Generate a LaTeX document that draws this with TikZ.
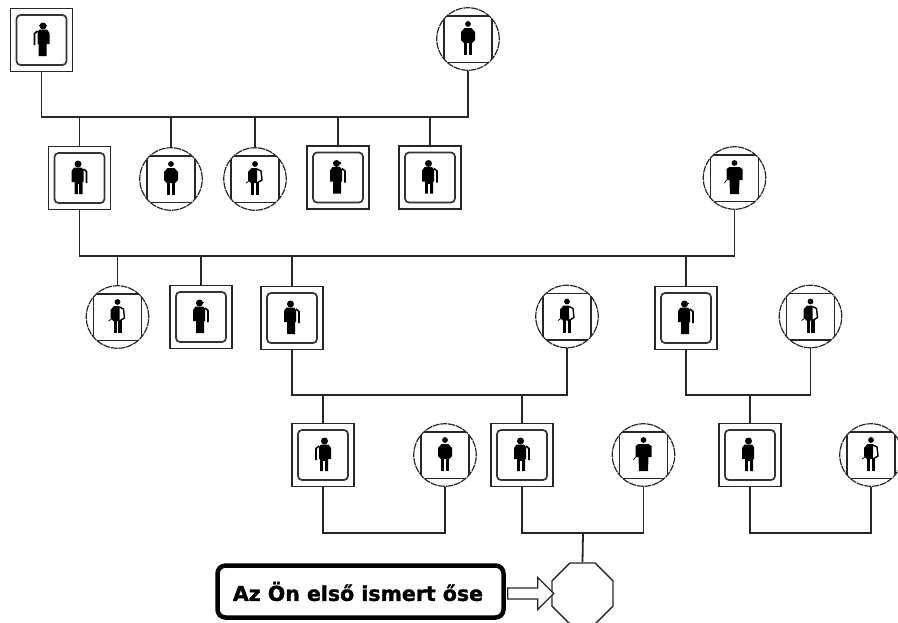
\documentclass[tikz,border=0pt]{standalone}
\usepackage{fontspec}
\setmainfont{DejaVu Sans}[BoldFeatures={FakeBold=1.5}]
\usetikzlibrary{shapes.geometric}
\tikzset{
  ln/.style={line width=1.8pt,draw=black!85},
  mbox/.style={ln,draw,rectangle,minimum width=62pt,minimum height=63pt,inner sep=0pt,fill=white},
  fcirc/.style={draw=black!85,line width=1.2pt,dash pattern=on 7pt off .8pt,circle,minimum size=62.5pt,inner sep=0pt},
  inm/.style={line width=1.7pt,draw=black!80,rounded corners=4pt},
  inf/.style={line width=1.8pt,draw=black!85},
  thinarm/.style={draw=black,line width=1.6pt,line join=round},
  lab/.style={draw=black,line width=4.5pt,rounded corners=8pt,minimum width=286pt,minimum height=52pt,inner sep=0pt,font=\bfseries\fontsize{20.5}{22}\selectfont},
  oct/.style={regular polygon,regular polygon sides=8,draw=black!85,line width=1.3pt,minimum size=66pt,inner sep=0pt},
}
% #1 node, #2 xscale (1 arm right, -1 arm left), #3 legs(0 solid,1 split), #4 hat(0 no,1 yes), #5 arm(0 none,1 arm)
\newcommand{\manfig}[5]{%
  \begin{scope}[shift={(#1)},xscale=#2]
    \fill (-1.5,-14) circle (3.5);
    \ifnum#4=1 \fill (-5.5,-15.5) rectangle (2.5,-13.6); \fi
    \fill (-8,-7) -- (-5.5,-10.5) -- (2,-10.5) -- (4,-8) -- (4,4) -- (3,4) -- (3,16) -- (-5,16) -- (-5,4) -- (-8,4) -- cycle;
    \ifnum#3=1 \fill[white] (-1.6,6) rectangle (-.4,17); \fi
    \ifnum#5=1 \draw[thinarm] (4,-9) -- (7,-6.5) -- (7,5); \fi
  \end{scope}
}
\newcommand{\manbox}[7]{%
  \node[mbox] (#1) at (#2,#3) {};
  \draw[inm] (#2-25,#3-25) rectangle (#2+25,#3+25);
  \manfig{#1}{#4}{#5}{#6}{#7}
}
% #2 variant: 0 split legs, 1 solid skirt and wide shoulders, 2 side bag with small hand
\newcommand{\womanfig}[2]{%
  \begin{scope}[shift={(#1)}]
    \fill (0,-15) circle (2.9);
    \ifcase#2
      \fill (-7,-7) -- (-3.5,-11) -- (3.5,-11) -- (7,-7) -- (7,1) -- (4,4) -- (-4,4) -- (-7,1) -- cycle;
      \fill (-4,3) rectangle (-.6,16);
      \fill (.6,3) rectangle (4,16);
    \or
      \fill (-8,-9) -- (-5,-11) -- (5,-11) -- (8,-9) -- (8,2) -- (5,2) -- (4.5,16) -- (-4.5,16) -- (-5,2) -- (-8,2) -- cycle;
      \draw[line width=.8pt] (-8,2) -- (-10,5);
    \or
      \fill (-7,-7) -- (-3.5,-11) -- (2,-11) -- (2,4) -- (-4,4) -- (-7,1) -- cycle;
      \draw[line width=1.4pt] (2,-10) -- (6,-8) -- (7,1) -- (2,4);
      \fill (-4,3) rectangle (-.6,16);
      \fill (.6,3) rectangle (4,16);
      \draw[line width=.8pt] (-6,2) -- (-9,4);
    \fi
  \end{scope}
}
\newcommand{\womancirc}[4]{%
  \node[fcirc] (#1) at (#2,#3) {};
  \begin{scope}
    \clip (#2,#3) circle (31.2);
    \draw[inf] (#2-24,#3-23) rectangle (#2+24,#3+23.5);
  \end{scope}
  \womanfig{#1}{#4}
}
\begin{document}
\begin{tikzpicture}[x=1pt,y=-1pt]
\useasboundingbox (0,0) rectangle (898,622);
\coordinate (busA) at (250,117);
\coordinate (busB) at (400,256);
\coordinate (busC) at (430,395);
\coordinate (busD) at (750,395);
\coordinate (busE) at (385,533);
\coordinate (busF) at (583,533);
\coordinate (busG) at (810,533);
\manbox{a1}{41.5}{40}{-1}{0}{1}{1}
\womancirc{a2}{468}{39}{0}
\manbox{b1}{79.5}{178}{1}{1}{0}{1}
\womancirc{b2}{171}{179}{0}
\womancirc{b3}{255}{179}{2}
\manbox{b4}{338}{177.5}{1}{0}{1}{1}
\manbox{b5}{430}{177.5}{1}{1}{0}{1}
\womancirc{b6}{734.5}{178}{1}
\womancirc{c1}{117.5}{317}{2}
\manbox{c2}{201}{317}{1}{0}{1}{1}
\manbox{c3}{292}{318}{1}{0}{0}{1}
\womancirc{c4}{567}{316.5}{2}
\manbox{c5}{686}{318}{1}{0}{1}{1}
\womancirc{c6}{810.5}{316.5}{2}
\manbox{d1}{323}{455}{-1}{1}{0}{1}
\womancirc{d2}{445}{455}{0}
\manbox{d3}{522}{455}{1}{1}{0}{1}
\womancirc{d4}{643.5}{455}{1}
\manbox{d5}{750}{455}{1}{1}{0}{0}
\womancirc{d6}{871}{455}{2}
\node[oct] (e) at (582.5,593.5) {};
\node[lab] (t) at (360.5,591.5) {Az Ön első ismert őse\hspace*{5pt}};
\draw[ln] (a1.south) |- (busA) -| (a2.south);
\foreach \n in {b1,b2,b3,b4,b5} \draw[ln] (\n.north) -- (\n.north |- busA);
\draw[ln] (b1.south) |- (busB) -| (b6.south);
\foreach \n in {c1,c2,c3,c5} \draw[ln] (\n.north) -- (\n.north |- busB);
\draw[ln] (c3.south) |- (busC) -| (c4.south);
\draw[ln] (c5.south) |- (busD) -| (c6.south);
\foreach \n in {d1,d3} \draw[ln] (\n.north) -- (\n.north |- busC);
\draw[ln] (d5.north) -- (d5.north |- busD);
\draw[ln] (d1.south) |- (busE) -| (d2.south);
\draw[ln] (d3.south) |- (busF) -| (d4.south);
\draw[ln] (d5.south) |- (busG) -| (d6.south);
\draw[ln] (e.north) -- (busF);
\draw[line width=1.3pt,draw=black!85,fill=white] (t.east |- e.center) ++(2,-5.5) -- ++(30,0) -- ++(0,-10.5) -- ++(16,16) -- ++(-16,16) -- ++(0,-10.5) -- ++(-30,0) -- cycle;
\end{tikzpicture}
\end{document}
